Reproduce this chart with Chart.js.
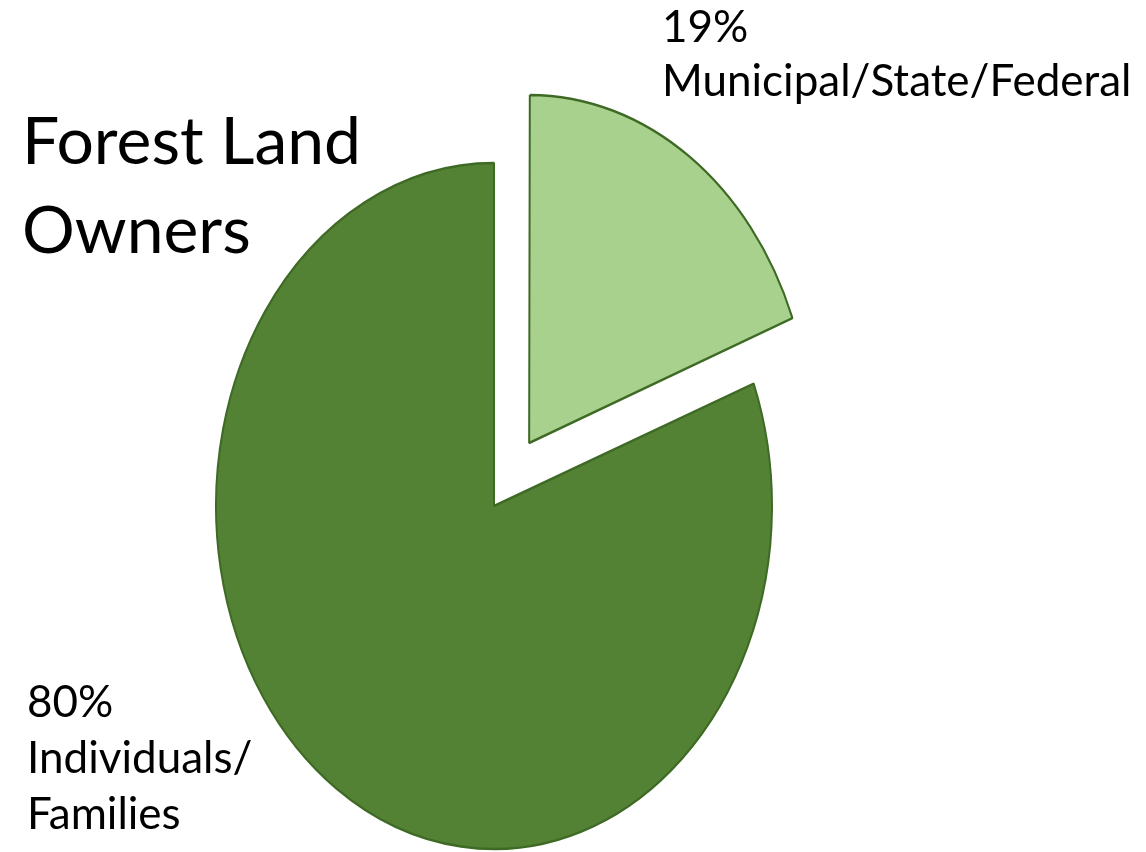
<!DOCTYPE html>
<html>
<head>
<meta charset="utf-8">
<title>Forest Land Owners</title>
<script src="https://cdn.jsdelivr.net/npm/chart.js@4"></script>
<style>
  html, body { margin: 0; padding: 0; background: #fff; }
  #pie { display: block; }
</style>
</head>
<body>
<canvas id="pie" width="1146" height="852"></canvas>
<script>
// owner groups and their share of forest land (percent)
const owners   = ['Municipal/State/Federal', 'Individuals/Families'];
const shares   = [19, 80];
const fills    = ['#A9D18E', '#548235'];
const titleLines = ['Forest Land', 'Owners'];

const pie = document.getElementById('pie');
const FONT = 'Lato, "Open Sans", sans-serif';

// the pie is drawn as a tall ellipse: stretch the arcs vertically around the centre
const stretch = {
  id: 'stretch',
  beforeDatasetsDraw(chart, args, opts) {
    const arc = chart.getDatasetMeta(0).data[1];
    const ctx = chart.ctx;
    ctx.save();
    ctx.translate(arc.x, arc.y);
    ctx.scale(1, opts.ratio);
    ctx.translate(-arc.x, -arc.y);
  },
  afterDatasetsDraw(chart) {
    chart.ctx.restore();
  }
};

// title and slice labels, written as plain text blocks
const captions = {
  id: 'captions',
  afterDraw(chart, args, opts) {
    const ctx = chart.ctx;
    ctx.save();
    ctx.fillStyle = '#000';
    ctx.textAlign = 'left';
    ctx.textBaseline = 'alphabetic';
    opts.blocks.forEach(b => {
      ctx.font = b.size + 'px ' + FONT;
      b.lines.forEach((line, i) => ctx.fillText(line, b.x, b.y + i * b.lead));
    });
    ctx.restore();
  }
};

const pct = i => shares[i] + '%';

new Chart(pie, {
  type: 'pie',
  data: {
    labels: owners,
    datasets: [{
      data: shares,
      backgroundColor: fills,
      borderColor: '#3E6A26',
      borderWidth: 2,
      // arc offset is divided by 4 when drawn, so this pulls the slice out ~62px
      offset: [248, 0],
      radius: 278
    }]
  },
  options: {
    responsive: false,
    animation: false,
    events: [],
    layout: { padding: { left: 0, right: 158, top: 160, bottom: 0 } },
    plugins: {
      legend: { display: false },
      tooltip: { enabled: false },
      stretch: { ratio: 343 / 278 },
      captions: {
        blocks: [
          { lines: titleLines, x: 22, y: 164, size: 66, lead: 89 },
          { lines: [pct(0), 'Municipal/State/Federal'], x: 662, y: 42, size: 44, lead: 54 },
          { lines: [pct(1), 'Individuals/', 'Families'], x: 27, y: 717, size: 44, lead: 56 }
        ]
      }
    }
  },
  plugins: [stretch, captions]
});
</script>
</body>
</html>
